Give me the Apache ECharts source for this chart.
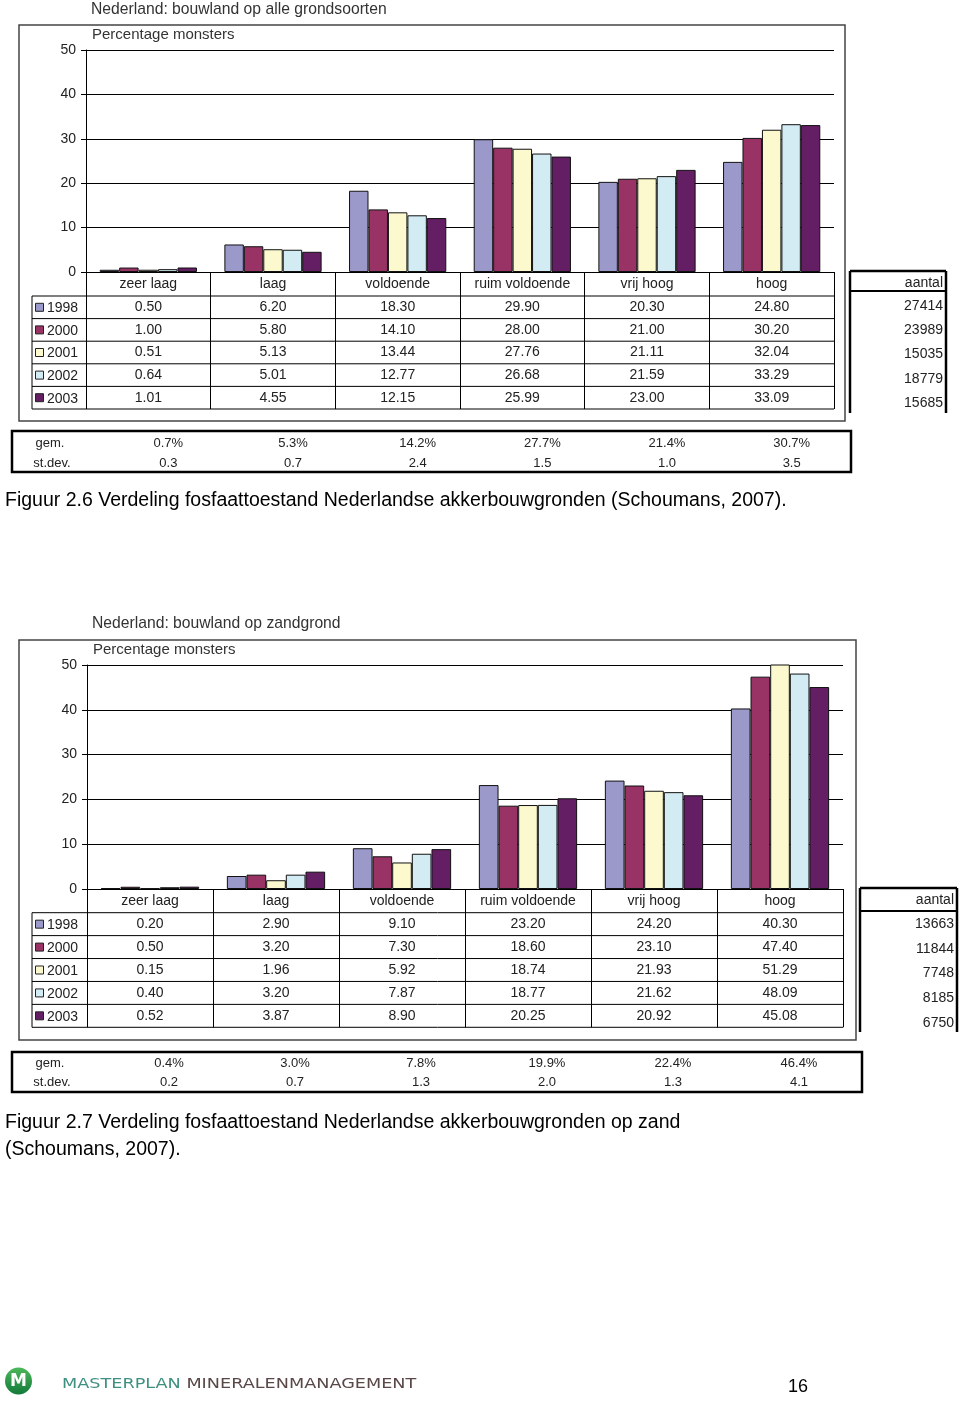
<!DOCTYPE html>
<html>
<head>
<meta charset="utf-8">
<script src="https://cdn.jsdelivr.net/npm/echarts@6/dist/echarts.min.js"></script>
<style>
  html, body { margin: 0; padding: 0; background: #fff; }
  #page { width: 960px; height: 1401px; }
</style>
</head>
<body>
<div id="page"></div>
<script>
// ---------------- DATA ----------------
const categories = ['zeer laag', 'laag', 'voldoende', 'ruim voldoende', 'vrij hoog', 'hoog'];
const years = ['1998', '2000', '2001', '2002', '2003'];

// Figuur 2.6 – bouwland op alle grondsoorten (per jaar, per klasse)
const alle1998 = [0.50, 6.20, 18.30, 29.90, 20.30, 24.80];
const alle2000 = [1.00, 5.80, 14.10, 28.00, 21.00, 30.20];
const alle2001 = [0.51, 5.13, 13.44, 27.76, 21.11, 32.04];
const alle2002 = [0.64, 5.01, 12.77, 26.68, 21.59, 33.29];
const alle2003 = [1.01, 4.55, 12.15, 25.99, 23.00, 33.09];
const alleGem = ['0.7%', '5.3%', '14.2%', '27.7%', '21.4%', '30.7%'];
const alleStdev = ['0.3', '0.7', '2.4', '1.5', '1.0', '3.5'];
const alleAantal = [27414, 23989, 15035, 18779, 15685];

// Figuur 2.7 – bouwland op zandgrond
const zand1998 = [0.20, 2.90, 9.10, 23.20, 24.20, 40.30];
const zand2000 = [0.50, 3.20, 7.30, 18.60, 23.10, 47.40];
const zand2001 = [0.15, 1.96, 5.92, 18.74, 21.93, 51.29];
const zand2002 = [0.40, 3.20, 7.87, 18.77, 21.62, 48.09];
const zand2003 = [0.52, 3.87, 8.90, 20.25, 20.92, 45.08];
const zandGem = ['0.4%', '3.0%', '7.8%', '19.9%', '22.4%', '46.4%'];
const zandStdev = ['0.2', '0.7', '1.3', '2.0', '1.3', '4.1'];
const zandAantal = [13663, 11844, 7748, 8185, 6750];

const yTicks = { min: 0, max: 50, interval: 10 };

// ---------------- STYLE / LAYOUT ----------------
const FONT = '"Liberation Sans", Arial, sans-serif';
const TXT = '#222';
const yearColors = ['#9B98CA', '#993366', '#FCF9CE', '#D3EBF3', '#641E64'];

const figures = [
  {
    title: 'Nederland: bouwland op alle grondsoorten',
    values: [alle1998, alle2000, alle2001, alle2002, alle2003],
    gem: alleGem, stdev: alleStdev, aantal: alleAantal,
    L: {
      titleX: 91, titleY: 10, box: [19, 25, 845, 421], subX: 92, subY: 35,
      gl: 86, gt: 50, gr: 834, gb: 272, hb: 296, tb: 409, legL: 32,
      gemBox: [12, 431, 851, 472], gemY: 443, sdY: 463, gemLabX: 50, gemOff: 20,
      aBox: [850, 271, 946, 413], aHead: 291, aLabY: 283, aY0: 306, aStep: 24.3, aRight: 943
    },
    caption: ['Figuur 2.6 Verdeling fosfaattoestand Nederlandse akkerbouwgronden (Schoumans, 2007).'],
    capY: 501
  },
  {
    title: 'Nederland: bouwland op zandgrond',
    values: [zand1998, zand2000, zand2001, zand2002, zand2003],
    gem: zandGem, stdev: zandStdev, aantal: zandAantal,
    L: {
      titleX: 92, titleY: 624, box: [19, 640, 856, 1040], subX: 93, subY: 650,
      gl: 87, gt: 665, gr: 843, gb: 889, hb: 912.7, tb: 1027.3, legL: 32,
      gemBox: [12, 1052, 862, 1092], gemY: 1063, sdY: 1082, gemLabX: 50, gemOff: 19,
      aBox: [860, 888, 957, 1032], aHead: 911, aLabY: 900, aY0: 924, aStep: 24.7, aRight: 954
    },
    caption: ['Figuur 2.7 Verdeling fosfaattoestand Nederlandse akkerbouwgronden op zand', '(Schoumans, 2007).'],
    capY: 1123
  }
];

const grids = [], xAxes = [], yAxes = [], series = [], gfx = [];

function text(x, y, str, size, opts) {
  opts = opts || {};
  return {
    type: 'text', x: x, y: y, silent: true, z: 10,
    style: {
      text: str, fill: opts.color || TXT,
      font: (opts.weight ? opts.weight + ' ' : '') + size + 'px ' + (opts.family || FONT),
      textAlign: opts.align || 'left', textVerticalAlign: opts.valign || 'middle'
    }
  };
}
function line(x1, y1, x2, y2, w, color) {
  return { type: 'line', silent: true, z: 10, shape: { x1: x1, y1: y1, x2: x2, y2: y2 },
    style: { stroke: color || '#000', lineWidth: w || 1 } };
}
function rect(b, w, color) {
  return { type: 'rect', silent: true, z: 10, shape: { x: b[0], y: b[1], width: b[2] - b[0], height: b[3] - b[1] },
    style: { fill: 'none', stroke: color || '#000', lineWidth: w || 1 } };
}

figures.forEach(function (f, idx) {
  const L = f.L;
  const bw = (L.gr - L.gl) / categories.length;
  const rh = (L.tb - L.hb) / years.length;

  grids.push({ left: L.gl, top: L.gt, width: L.gr - L.gl, height: L.gb - L.gt, containLabel: false });
  xAxes.push({
    gridIndex: idx, type: 'category', data: categories,
    axisLine: { show: true, lineStyle: { color: '#000', width: 1 } },
    axisTick: { show: true, interval: 0, length: L.tb - L.gb, lineStyle: { color: '#000', width: 1 } },
    axisLabel: { interval: 0, margin: 5, fontSize: 14, color: TXT, fontFamily: FONT },
    splitLine: { show: false }
  });
  yAxes.push({
    gridIndex: idx, type: 'value', min: yTicks.min, max: yTicks.max, interval: yTicks.interval,
    axisLine: { show: true, lineStyle: { color: '#000', width: 1 } },
    axisTick: { show: true, length: 5, lineStyle: { color: '#000' } },
    axisLabel: { fontSize: 14, color: TXT, fontFamily: FONT, margin: 10 },
    splitLine: { show: true, lineStyle: { color: '#000', width: 1 } }
  });
  years.forEach(function (yr, k) {
    series.push({
      type: 'bar', name: yr, xAxisIndex: idx, yAxisIndex: idx,
      data: f.values[k], barGap: '0%', barCategoryGap: '22%',
      itemStyle: { color: yearColors[k], borderColor: '#111', borderWidth: 1 },
      silent: true, animation: false
    });
  });

  // titles & outer box
  gfx.push(text(L.titleX, L.titleY, f.title, 15.7, { color: '#333' }));
  gfx.push(rect(L.box, 1.5, '#444'));
  gfx.push(text(L.subX, L.subY, 'Percentage monsters', 15, { color: '#333' }));

  // data table lines
  for (let k = 0; k <= years.length; k++) {
    const y = L.hb + rh * k;
    gfx.push(line(L.legL, y, L.gr, y, 1));
  }
  gfx.push(line(L.legL, L.hb, L.legL, L.tb, 1));

  // legend column & values
  years.forEach(function (yr, k) {
    const cy = L.hb + rh * (k + 0.5);
    gfx.push({ type: 'rect', silent: true, z: 10, shape: { x: L.legL + 3.5, y: cy - 4, width: 8, height: 8 },
      style: { fill: yearColors[k], stroke: '#222', lineWidth: 1 } });
    gfx.push(text(L.legL + 15, cy + 1, yr, 14));
    categories.forEach(function (c, j) {
      gfx.push(text(L.gl + bw * (j + 0.5), cy, f.values[k][j].toFixed(2), 14, { align: 'center' }));
    });
  });

  // gem / st.dev box
  gfx.push(rect(L.gemBox, 2.5, '#000'));
  gfx.push(text(L.gemLabX, L.gemY, 'gem.', 13, { align: 'center' }));
  gfx.push(text(L.gemLabX + 2, L.sdY, 'st.dev.', 13, { align: 'center' }));
  categories.forEach(function (c, j) {
    const x = L.gl + bw * (j + 0.5) + L.gemOff;
    gfx.push(text(x, L.gemY, f.gem[j], 13, { align: 'center' }));
    gfx.push(text(x, L.sdY, f.stdev[j], 13, { align: 'center' }));
  });

  // aantal box
  const a = L.aBox;
  gfx.push(line(a[0], a[1], a[2], a[1], 2.5));
  gfx.push(line(a[0], a[1], a[0], a[3], 2.5));
  gfx.push(line(a[2], a[1], a[2], a[3], 2.5));
  gfx.push(line(a[0], L.aHead, a[2], L.aHead, 2));
  gfx.push(text(L.aRight, L.aLabY, 'aantal', 14, { align: 'right' }));
  f.aantal.forEach(function (n, k) {
    gfx.push(text(L.aRight, L.aY0 + L.aStep * k, String(n), 14, { align: 'right' }));
  });

  // caption
  f.caption.forEach(function (s, i) {
    gfx.push(text(5, f.capY + 27 * i, s, 19.5, { color: '#000' }));
  });
});

// footer: logo, brand text, page number
gfx.push({
  type: 'circle', silent: true, z: 10, shape: { cx: 18.5, cy: 1381, r: 13.5 },
  style: { fill: new echarts.graphic.LinearGradient(0, 0, 0, 1, [
    { offset: 0, color: '#4cb85a' }, { offset: 1, color: '#137a3a' }]) }
});
gfx.push(text(18.5, 1382, 'M', 17, { align: 'center', color: '#fff', weight: 'bold', family: '"DejaVu Sans", sans-serif' }));
gfx.push({
  type: 'text', x: 62, y: 1384, scaleX: 1.26, silent: true, z: 10,
  style: {
    text: '{a|MASTERPLAN} {b|MINERALENMANAGEMENT}',
    textVerticalAlign: 'middle', textAlign: 'left',
    font: '14px "DejaVu Sans", sans-serif',
    rich: {
      a: { fill: '#3f9080', font: '14px "DejaVu Sans", sans-serif' },
      b: { fill: '#5a4848', font: '14px "DejaVu Sans", sans-serif' }
    }
  }
});
gfx.push(text(798, 1387, '16', 18, { align: 'center', color: '#000' }));

const chart = echarts.init(document.getElementById('page'), null, { renderer: 'canvas', width: 960, height: 1401 });
chart.setOption({
  animation: false,
  backgroundColor: '#fff',
  grid: grids,
  xAxis: xAxes,
  yAxis: yAxes,
  series: series,
  graphic: { elements: gfx }
});
</script>
</body>
</html>
